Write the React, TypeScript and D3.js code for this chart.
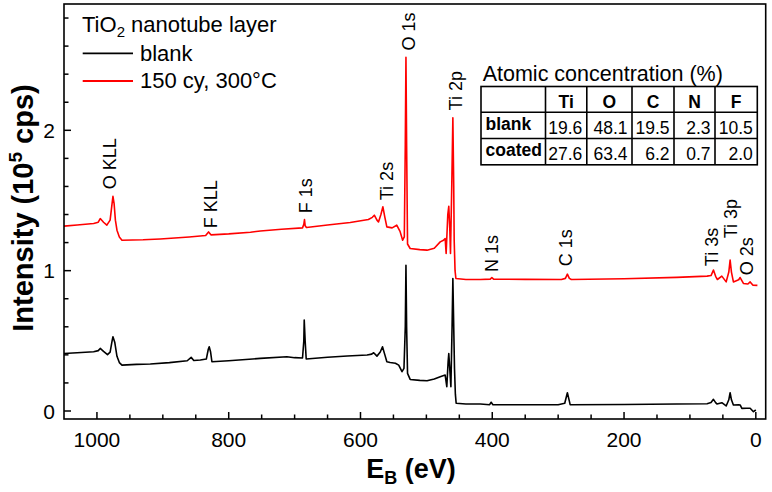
import React from "react";
import * as d3 from "d3";

// ---- data ----
const blankSpectrum: [number, number][] = [
  [1050, 0.41], [1030, 0.415], [1005, 0.422], [998, 0.43], [995, 0.446], [990, 0.425],
  [984, 0.402], [980, 0.42], [977, 0.5], [975.7, 0.529], [973, 0.49], [969.6, 0.39],
  [966, 0.345], [962, 0.327], [940, 0.332], [919, 0.335], [890, 0.345], [863, 0.358],
  [857, 0.382], [853, 0.36], [843, 0.363], [834, 0.37], [831, 0.44], [829.6, 0.458],
  [827.5, 0.42], [825.5, 0.351], [800, 0.358], [752, 0.375], [711.7, 0.387], [700, 0.38],
  [688, 0.378], [686, 0.5], [685.4, 0.648], [684, 0.5], [682.4, 0.37], [650, 0.383],
  [620, 0.392], [590, 0.399], [583, 0.405], [580, 0.415], [575, 0.391], [570, 0.42],
  [566.6, 0.458], [563, 0.4], [560, 0.351], [555, 0.345], [547, 0.34], [542, 0.327],
  [537, 0.28], [534, 0.304], [532, 0.6], [531, 1.039], [530, 0.6], [528.6, 0.268],
  [524.6, 0.225], [510, 0.218], [499, 0.216], [488, 0.228], [479, 0.244], [471.5, 0.256],
  [469, 0.173], [467, 0.35], [466, 0.41], [464.5, 0.3], [462.8, 0.173], [461, 0.6],
  [459.8, 0.944], [458.5, 0.6], [457.3, 0.3], [456, 0.12], [454.8, 0.055], [440, 0.05],
  [418, 0.05], [404, 0.045], [401.7, 0.062], [399, 0.045], [350, 0.045], [300, 0.045],
  [290, 0.055], [286, 0.13], [283, 0.07], [281.8, 0.045], [200, 0.046], [120, 0.05],
  [74, 0.052], [68, 0.06], [64.3, 0.083], [61, 0.06], [59, 0.05], [51.6, 0.059],
  [45, 0.036], [41, 0.08], [39, 0.13], [37, 0.08], [34, 0.043], [26, 0.045],
  [23.8, 0.043], [21.2, 0.019], [14, 0.02], [8.6, 0.02], [3.6, -0.005], [0, 0.007],
];

const coatedSpectrum: [number, number][] = [
  [1050, 1.317], [1030, 1.325], [1005, 1.336], [998, 1.345], [995, 1.371], [990, 1.345],
  [985, 1.324], [980, 1.36], [977, 1.48], [975.7, 1.53], [974, 1.48], [972, 1.36],
  [969.6, 1.288], [966, 1.24], [962, 1.217], [930, 1.22], [904, 1.226], [860, 1.24],
  [835, 1.25], [830.6, 1.276], [827, 1.255], [800, 1.262], [767, 1.274], [752, 1.283],
  [720, 1.295], [688, 1.305], [686, 1.33], [685, 1.364], [684, 1.32], [682, 1.307],
  [650, 1.325], [615.6, 1.343], [588, 1.364], [582, 1.38], [579, 1.395], [575, 1.36],
  [572.7, 1.347], [569, 1.4], [566, 1.455], [563, 1.38], [560, 1.312], [552, 1.305],
  [545, 1.324], [540, 1.28], [536, 1.217], [533.5, 1.24], [532, 1.9], [531, 2.52],
  [530, 1.9], [528.6, 1.19], [524.6, 1.158], [510, 1.15], [499, 1.146], [488, 1.16],
  [479, 1.205], [474, 1.217], [471.5, 1.229], [470, 1.122], [467.5, 1.4], [466, 1.459],
  [464.5, 1.3], [463.4, 1.122], [461.5, 1.6], [459.8, 2.09], [458.5, 1.6], [457.8, 1.217],
  [456.5, 1.0], [455.2, 0.944], [440, 0.937], [418, 0.937], [403, 0.94], [400.6, 0.951],
  [398, 0.94], [350, 0.938], [295, 0.937], [289, 0.945], [286, 0.975], [283, 0.945],
  [280, 0.937], [200, 0.942], [120, 0.952], [74, 0.961], [68, 0.965], [64.3, 1.004],
  [61, 0.96], [58.3, 0.937], [51.6, 0.961], [45, 0.92], [41, 0.99], [39, 1.075],
  [37, 0.99], [34, 0.92], [26, 0.935], [23.8, 0.951], [18.8, 0.909], [12, 0.905],
  [8.6, 0.92], [4.6, 0.897], [-2.4, 0.895],
];

// peak labels: [text, eV of label baseline, intensity at label start]
const peakLabels: [string, number, number][] = [
  ["O KLL", 970.7, 1.58],
  ["F KLL", 818.2, 1.302],
  ["F 1s", 673.3, 1.409],
  ["Ti 2s", 550.4, 1.502],
  ["O 1s", 517, 2.569],
  ["Ti 2p", 446.4, 2.142],
  ["N 1s", 391, 0.991],
  ["C 1s", 279.5, 1.032],
  ["Ti 3s", 57.2, 1.032],
  ["Ti 3p", 28.4, 1.231],
  ["O 2s", 4.1, 0.968],
];

const xMajorTicks = [1000, 800, 600, 400, 200, 0];
const yMajorTicks = [0, 1, 2];

const tableTitle = "Atomic concentration (%)";
const tableElements = ["Ti", "O", "C", "N", "F"];
const tableRowNames = ["blank", "coated"];
const blankConc = ["19.6", "48.1", "19.5", "2.3", "10.5"];
const coatedConc = ["27.6", "63.4", "6.2", "0.7", "2.0"];

const seriesNames = ["blank", "150 cy, 300°C"];
const seriesColors = ["#000000", "#ff0000"];

const FONT = "'Liberation Sans', Arial, Helvetica, sans-serif";

export default function App() {
  const W = 772, H = 492;
  const left = 64, right = 765.7, top = 4, bottom = 419;
  const x = d3.scaleLinear().domain([1050, -15]).range([left, right]);
  const y = d3.scaleLinear().domain([-0.057, 2.9]).range([bottom, top]);

  const line = d3
    .line<[number, number]>()
    .x((d) => x(d[0]))
    .y((d) => y(d[1]));

  const xMinor = d3.range(0, 1050, 50).filter((v) => v % 200 !== 0);
  const yMinor = d3.range(0.2, 2.9, 0.2).filter((v) => Math.abs(v - Math.round(v)) > 0.01);

  const cols = [481, 545.5, 586.8, 632, 674, 715, 757.3];
  const rows = [86.5, 112.3, 138.5, 164.8];
  const concRows = [blankConc, coatedConc];

  return (
    <div style={{ position: "absolute", left: 0, top: 0 }}>
      <svg width={W} height={H} style={{ display: "block", background: "#fff" }} fontFamily={FONT}>
        <rect x={0} y={0} width={W} height={H} fill="#fff" />
        {/* curves */}
        <path d={line(blankSpectrum) || ""} fill="none" stroke={seriesColors[0]} strokeWidth={1.6} strokeLinejoin="round" />
        <path d={line(coatedSpectrum) || ""} fill="none" stroke={seriesColors[1]} strokeWidth={1.6} strokeLinejoin="round" />

        {/* frame */}
        <rect x={left} y={top} width={right - left} height={bottom - top} fill="none" stroke="#000" strokeWidth={1.6} />

        {/* x ticks */}
        {xMajorTicks.map((t) => (
          <g key={"xm" + t}>
            <line x1={x(t)} x2={x(t)} y1={bottom} y2={bottom - 7} stroke="#000" strokeWidth={1.5} />
            <text x={x(t)} y={447} textAnchor="middle" fontSize={21}>{t}</text>
          </g>
        ))}
        {xMinor.map((t) => (
          <line key={"xn" + t} x1={x(t)} x2={x(t)} y1={bottom} y2={bottom - 4.5} stroke="#000" strokeWidth={1.5} />
        ))}
        {/* y ticks */}
        {yMajorTicks.map((t) => (
          <g key={"ym" + t}>
            <line x1={left} x2={left + 7} y1={y(t)} y2={y(t)} stroke="#000" strokeWidth={1.5} />
            <text x={55} y={y(t) + 7.5} textAnchor="end" fontSize={21}>{t}</text>
          </g>
        ))}
        {yMinor.map((t) => (
          <line key={"yn" + t} x1={left} x2={left + 4.5} y1={y(t)} y2={y(t)} stroke="#000" strokeWidth={1.5} />
        ))}

        {/* axis titles */}
        <text x={411} y={478} textAnchor="middle" fontSize={27} fontWeight="bold">
          E<tspan fontSize={18} dy={6}>B</tspan>
          <tspan dy={-6}> (eV)</tspan>
        </text>
        <text transform="translate(33,208) rotate(-90)" textAnchor="middle" fontSize={29} fontWeight="bold">
          Intensity (10<tspan fontSize={19} dy={-11}>5</tspan>
          <tspan dy={11}> cps)</tspan>
        </text>

        {/* peak labels */}
        {peakLabels.map(([txt, ev, inten]) => (
          <text key={txt} transform={`translate(${x(ev)},${y(inten)}) rotate(-90)`} fontSize={18}>
            {txt}
          </text>
        ))}

        {/* legend */}
        <text x={82} y={31.5} fontSize={22}>
          TiO<tspan fontSize={15} dy={5}>2</tspan>
          <tspan dy={-5}> nanotube layer</tspan>
        </text>
        {seriesNames.map((n, i) => (
          <g key={n}>
            <line x1={82.7} x2={133} y1={53.3 + i * 27.7} y2={53.3 + i * 27.7} stroke={seriesColors[i]} strokeWidth={1.8} />
            <text x={140} y={60.5 + i * 27.7} fontSize={22}>{n}</text>
          </g>
        ))}

        {/* table */}
        <text x={482.7} y={81} fontSize={21.5}>{tableTitle}</text>
        <rect x={cols[0]} y={rows[0]} width={cols[6] - cols[0]} height={rows[3] - rows[0]} fill="none" stroke="#000" strokeWidth={1.6} />
        {rows.slice(1, 3).map((r) => (
          <line key={"r" + r} x1={cols[0]} x2={cols[6]} y1={r} y2={r} stroke="#000" strokeWidth={1.6} />
        ))}
        {cols.slice(1, 6).map((c) => (
          <line key={"c" + c} x1={c} x2={c} y1={rows[0]} y2={rows[3]} stroke="#000" strokeWidth={1.6} />
        ))}
        {tableElements.map((e, i) => (
          <text key={e} x={(cols[i + 1] + cols[i + 2]) / 2} y={107.5} textAnchor="middle" fontSize={17.5} fontWeight="bold">{e}</text>
        ))}
        {tableRowNames.map((n, r) => (
          <text key={n} x={485.5} y={130 + r * 25.5} fontSize={17.5} fontWeight="bold">{n}</text>
        ))}
        {concRows.map((vals, r) =>
          vals.map((v, i) => (
            <text key={r + "-" + i} x={cols[i + 2] - 4.5} y={134 + r * 25.5} textAnchor="end" fontSize={17.5}>{v}</text>
          ))
        )}
      </svg>
    </div>
  );
}
